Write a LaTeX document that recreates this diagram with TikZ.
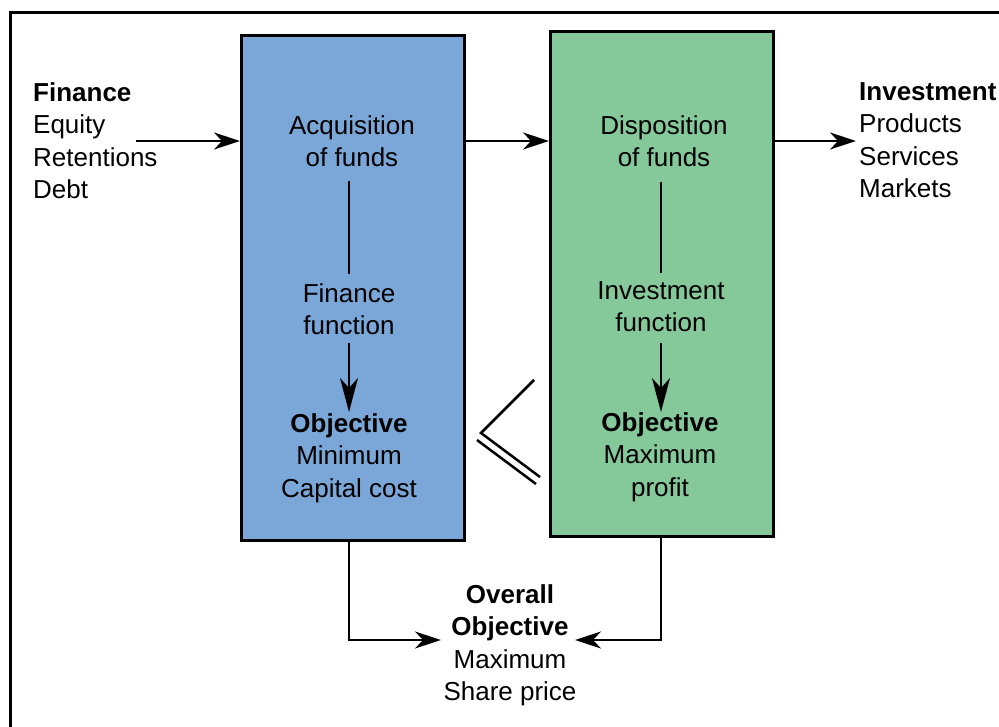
\documentclass[tikz,border=0pt]{standalone}
\usepackage{fontspec}
\setmainfont{Liberation Sans}
\usetikzlibrary{arrows.meta}
\definecolor{boxblue}{HTML}{7BA7D8}
\definecolor{boxgreen}{HTML}{85C99B}
\tikzset{
  txt/.style={inner sep=0pt, font=\fontsize{26}{32.5}\selectfont},
  fbox/.style={draw=black, line width=3pt, minimum width=223pt, minimum height=505pt, inner sep=0pt},
  conn/.style={line width=1.8pt, -{Stealth[length=26pt,width=17pt,inset=8pt]}},
  vconn/.style={line width=1.8pt, -{Stealth[length=34pt,width=18pt,inset=10pt]}},
  plain/.style={line width=1.8pt},
}
\begin{document}
\begin{tikzpicture}[x=1pt,y=-1pt]
\useasboundingbox (0,0) rectangle (999,727);
\clip (0,0) rectangle (999,727);
% frame
\draw[line width=3pt] (10,740) -- (10,13) -- (1010,13);
% boxes
\node[fbox, fill=boxblue, anchor=north west] (bbox) at (240,34) {};
\node[fbox, fill=boxgreen, anchor=north west] (gbox) at (549,30) {};
% texts
\node[txt, align=left, anchor=north west] (fin) at (33,82) {\textbf{Finance}\\Equity\\Retentions\\Debt};
\node[txt, align=left, anchor=north west] (inv) at (859,82) {\textbf{Investment}\\Products\\Services\\Markets};
\node[txt, align=center, anchor=north] (acq) at (352,115) {Acquisition\\of funds};
\node[txt, align=center, anchor=north] (ffun) at (349,283) {Finance\\function};
\node[txt, align=center, anchor=north] (fobj) at (349,413) {\textbf{Objective}\\Minimum\\Capital cost};
\node[txt, align=center, anchor=north] (disp) at (664,115) {Disposition\\of funds};
\node[txt, align=center, anchor=north] (ifun) at (661,281) {Investment\\function};
\node[txt, align=center, anchor=north] (iobj) at (660,412) {\textbf{Objective}\\Maximum\\profit};
\node[txt, align=center, anchor=north] (ovr) at (510,584) {\textbf{Overall}\\\textbf{Objective}\\Maximum\\Share price};
% coordinates
\coordinate (finout) at (136,141);
\coordinate (invin) at (856,141);
\coordinate (bl1) at (349,181);
\coordinate (bl2) at (349,274);
\coordinate (bl3) at (349,343);
\coordinate (bl4) at (349,412);
\coordinate (gl1) at (661,182);
\coordinate (gl2) at (661,273);
\coordinate (gl3) at (661,343);
\coordinate (gl4) at (661,412);
\coordinate (ovl) at (441,640);
\coordinate (ovrr) at (575,640);
% connectors
\draw[conn] (finout) -- (bbox.west |- finout);
\draw[conn] (bbox.east |- finout) -- (gbox.west |- finout);
\draw[conn] (gbox.east |- invin) -- (invin);
\draw[plain] (bl1) -- (bl2);
\draw[vconn] (bl3) -- (bl4);
\draw[plain] (gl1) -- (gl2);
\draw[vconn] (gl3) -- (gl4);
\draw[conn] (bbox.south -| bl1) |- (ovl);
\draw[conn] (gbox.south -| gl1) |- (ovrr);
% double-line symbol
\draw[line width=2.5pt] (534,380) -- (481,433) -- (540,477);
\draw[line width=2.5pt] (477,440) -- (536,484);
\end{tikzpicture}
\end{document}
